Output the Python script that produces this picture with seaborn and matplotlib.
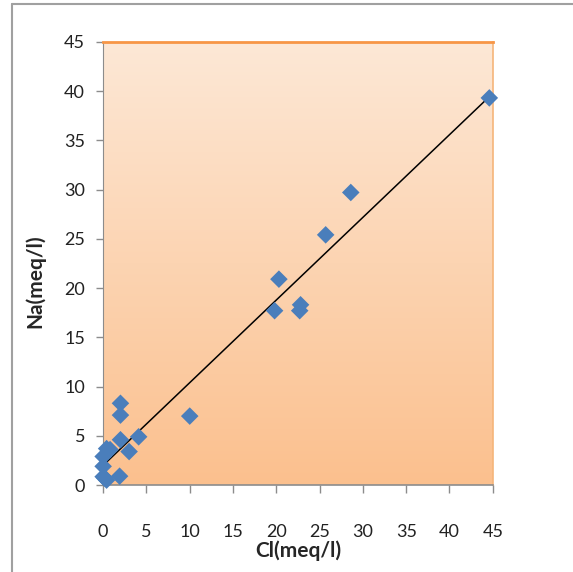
import numpy as np
import pandas as pd
import matplotlib
matplotlib.use("Agg")
import matplotlib.pyplot as plt
import seaborn as sns
from matplotlib.lines import Line2D

# Cl vs Na (meq/l)
cl = [44.6, 28.6, 25.7, 20.3, 19.8, 22.7, 22.8, 10.0, 2.0, 2.0, 4.1, 2.0,
      1.9, 3.0, 0.4, 0.8, 0.0, 0.0, 0.0, 0.4, 0.2]
na = [39.3, 29.7, 25.4, 20.9, 17.7, 17.7, 18.3, 7.0, 8.3, 7.1, 4.9, 4.6,
      0.9, 3.4, 3.7, 3.6, 2.9, 1.9, 0.85, 0.5, 0.7]
ticks = [0, 5, 10, 15, 20, 25, 30, 35, 40, 45]

df = pd.DataFrame({"cl": cl, "na": na})

sns.set_style("white")
plt.rcParams["font.family"] = ["Lato", "DejaVu Sans"]

fig = plt.figure(figsize=(5.73, 5.72), dpi=100)
ax = fig.add_axes([0.180, 0.152, 0.680, 0.775])

# gradient plot area
grad = np.linspace(0, 1, 256).reshape(-1, 1)
cmap = matplotlib.colors.LinearSegmentedColormap.from_list(
    "bg", ["#fde8d6", "#fbc08e"])
ax.imshow(grad, aspect="auto", cmap=cmap, extent=[0, 1, 0, 1],
          transform=ax.transAxes, zorder=0)

sns.regplot(data=df, x="cl", y="na", scatter=False, ci=None, ax=ax,
            line_kws={"color": "black", "lw": 1.1, "zorder": 3})
sns.scatterplot(data=df, x="cl", y="na", marker="D", s=80, color="#4a7ebb",
                edgecolor="none", ax=ax, zorder=4, clip_on=False)

ax.set_xlim(0, 45)
ax.set_ylim(0, 45)
ax.set_xticks(ticks)
ax.set_yticks(ticks)
ax.tick_params(axis="x", direction="out", length=6, width=1, color="#8c8c8c",
               pad=22, labelsize=13, labelcolor="#222222", bottom=True)
ax.tick_params(axis="y", direction="out", length=5, width=1, color="#8c8c8c",
               pad=8, labelsize=13, labelcolor="#222222", left=True)

ax.spines["top"].set_color("#f79646")
ax.spines["top"].set_linewidth(2)
ax.spines["right"].set_color("#f5b57a")
ax.spines["right"].set_linewidth(1.2)
ax.spines["left"].set_color("#8c8c8c")
ax.spines["bottom"].set_color("#8c8c8c")
ax.spines["bottom"].set_linewidth(1.2)

ax.set_xlabel("Cl(meq/l)", fontsize=15, fontweight="bold", labelpad=0)
ax.set_ylabel("Na(meq/l)", fontsize=15, fontweight="bold")
ax.yaxis.set_label_coords(-0.148, 0.46)

# outer chart frame (only top and left visible)
fig.add_artist(Line2D([12 / 573, 12 / 573], [0, 1 - 4 / 572],
                      transform=fig.transFigure, color="#a0a0a0", lw=1.5))
fig.add_artist(Line2D([12 / 573, 1], [1 - 4 / 572, 1 - 4 / 572],
                      transform=fig.transFigure, color="#a0a0a0", lw=1.5))

fig.savefig("out.png", dpi=100)
